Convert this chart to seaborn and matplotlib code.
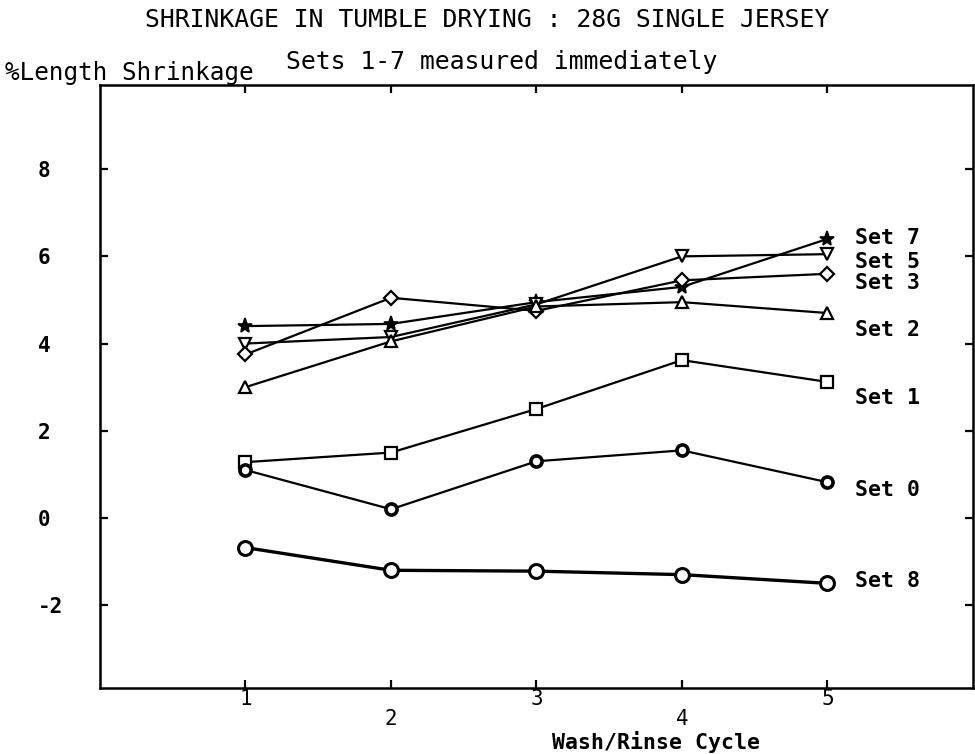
import numpy as np
import pandas as pd
import seaborn as sns
import matplotlib
matplotlib.use("Agg")
import matplotlib.pyplot as plt

# Wash/rinse cycles and % length shrinkage per set
cycles = [1, 2, 3, 4, 5]
set_names = ["Set 7", "Set 5", "Set 3", "Set 2", "Set 1", "Set 0", "Set 8"]
set7 = [4.40, 4.45, 4.95, 5.30, 6.40]
set5 = [4.00, 4.15, 4.90, 6.00, 6.05]
set3 = [3.75, 5.05, 4.75, 5.45, 5.60]
set2 = [3.00, 4.05, 4.85, 4.95, 4.70]
set1 = [1.28, 1.50, 2.50, 3.62, 3.12]
set0 = [1.10, 0.20, 1.30, 1.55, 0.82]
set8 = [-0.68, -1.20, -1.22, -1.30, -1.50]
series = [set7, set5, set3, set2, set1, set0, set8]

# vertical position (data units) of each end-of-line label
label_y = [6.42, 5.87, 5.39, 4.31, 2.75, 0.64, -1.44]
yticks = [-2, 0, 2, 4, 6, 8]

sns.set_style("white")
plt.rcParams["font.family"] = ["DejaVu Sans Mono", "DejaVu Sans"]
plt.rcParams["text.color"] = "black"
plt.rcParams["axes.labelcolor"] = "black"
plt.rcParams["xtick.color"] = "black"
plt.rcParams["ytick.color"] = "black"

fig = plt.figure(figsize=(9.75, 7.54), dpi=100)
ax = fig.add_axes([100 / 975, 1 - 688 / 754, 873 / 975, 603 / 754])

styles = {
    "Set 7": dict(marker="*", ms=11, mfc="black", mew=1.2, lw=1.6),
    "Set 5": dict(marker="v", ms=9, mfc="white", mew=1.6, lw=1.6),
    "Set 3": dict(marker="D", ms=7, mfc="white", mew=1.6, lw=1.6),
    "Set 2": dict(marker="^", ms=9, mfc="white", mew=1.6, lw=1.6),
    "Set 1": dict(marker="s", ms=8, mfc="white", mew=1.6, lw=1.6),
    "Set 0": dict(marker="o", ms=8, mfc="white", mew=2.6, lw=1.6),
    "Set 8": dict(marker="o", ms=10, mfc="white", mew=2.2, lw=2.4),
}

for name, vals in zip(set_names, series):
    df = pd.DataFrame({"cycle": cycles, "shrink": vals})
    st = styles[name]
    sns.lineplot(data=df, x="cycle", y="shrink", ax=ax, color="black",
                 marker=st["marker"], markersize=st["ms"],
                 markerfacecolor=st["mfc"], markeredgecolor="black",
                 markeredgewidth=st["mew"], linewidth=st["lw"])

for name, yl in zip(set_names, label_y):
    ax.text(5.19, yl, name, ha="left", va="center", fontsize=15.5,
            fontweight="bold", color="black")

ax.set_xlim(0, 6)
ax.set_ylim(-3.9, 9.93)
ax.set_xticks(cycles)
ax.set_xticklabels([str(c) for c in cycles])
ax.set_yticks(yticks)
ax.set_yticklabels([str(v) for v in yticks])

for sp in ax.spines.values():
    sp.set_visible(True)
    sp.set_color("black")
    sp.set_linewidth(1.8)

ax.tick_params(axis="both", direction="in", length=6, width=1.6,
               top=True, right=True, bottom=True, left=True,
               colors="black", labelcolor="black")
ax.tick_params(axis="y", labelsize=15, pad=45)
ax.tick_params(axis="x", labelsize=15, pad=1)
for lab in ax.get_yticklabels():
    lab.set_horizontalalignment("left")
    lab.set_fontweight("bold")
# even cycle labels sit one row lower than the odd ones
for i, tick in enumerate(ax.xaxis.get_major_ticks()):
    if cycles[i] % 2 == 0:
        tick.label1.set_y(-0.032)

ax.set_xlabel("Wash/Rinse Cycle", fontsize=15.5, fontweight="bold",
              color="black", va="center")
ax.xaxis.set_label_coords(0.637, -0.089)
ax.set_ylabel("%Length Shrinkage", fontsize=17.5, rotation=0,
              ha="left", va="center", color="black")
ax.yaxis.set_label_coords(-0.109, 1.02)

fig.text(487 / 975, 1 - 20 / 754,
         "SHRINKAGE IN TUMBLE DRYING : 28G SINGLE JERSEY",
         ha="center", va="center", fontsize=17.8, color="black")
fig.text(502 / 975, 1 - 62 / 754, "Sets 1-7 measured immediately",
         ha="center", va="center", fontsize=17.8, color="black")

fig.savefig("out.png", dpi=100, facecolor="white")
